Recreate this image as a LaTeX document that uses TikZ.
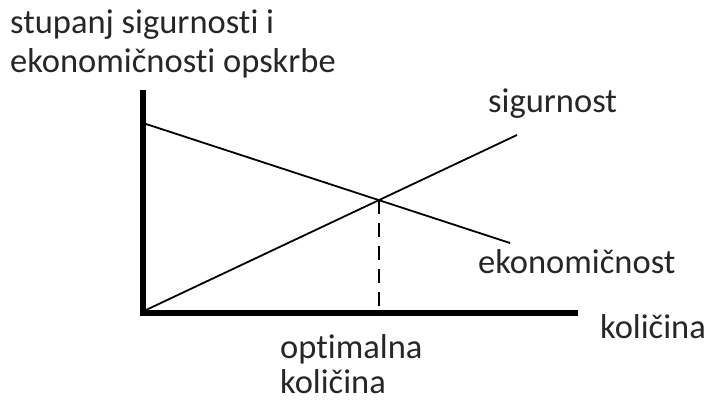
\documentclass[tikz,border=0pt]{standalone}
\usepackage{fontspec}
\setmainfont{Carlito}[Ligatures={NoCommon}]

\begin{document}
\begin{tikzpicture}[x=1pt, y=-1pt]
		\tikzset{lbl/.style={anchor=base west, inner sep=0pt, font=\fontsize{34.5}{40}\selectfont, text=black!85}};
		\tikzset{axis/.style={line width=6.5pt}};
		\tikzset{curve/.style={line width=1.8pt}};

		\useasboundingbox (0, 0) rectangle (709, 401);

		\coordinate (o) at (143, 313);
		\coordinate (ytop) at (143, 90);
		\coordinate (xend) at (578, 313);
		\coordinate (e1) at (146, 124);
		\coordinate (e2) at (510, 243);
		\coordinate (s1) at (146, 310);
		\coordinate (s2) at (517, 135);
		\coordinate (opt) at (intersection of e1--e2 and s1--s2);
		\coordinate (foot) at (opt |- o);

		\node[lbl] (ylabel1) at (10, 34) {stupanj sigurnosti i};
		\node[lbl] (ylabel2) at (10, 73) {ekonomičnosti opskrbe};
		\node[lbl] (sig) at (488, 113) {sigurnost};
		\node[lbl] (eko) at (478, 273) {ekonomičnost};
		\node[lbl] (kol) at (600, 338) {količina};
		\node[lbl] (opt1) at (280, 358) {optimalna};
		\node[lbl] (opt2) at (280, 393) {količina};

		\draw[curve] (e1) to (e2);
		\draw[curve] (s1) to (s2);

		\draw[curve, dash pattern=on 14pt off 9pt] (opt) to (foot);

		\draw[axis] (ytop) to (o) to (xend);
	\end{tikzpicture}
\end{document}
